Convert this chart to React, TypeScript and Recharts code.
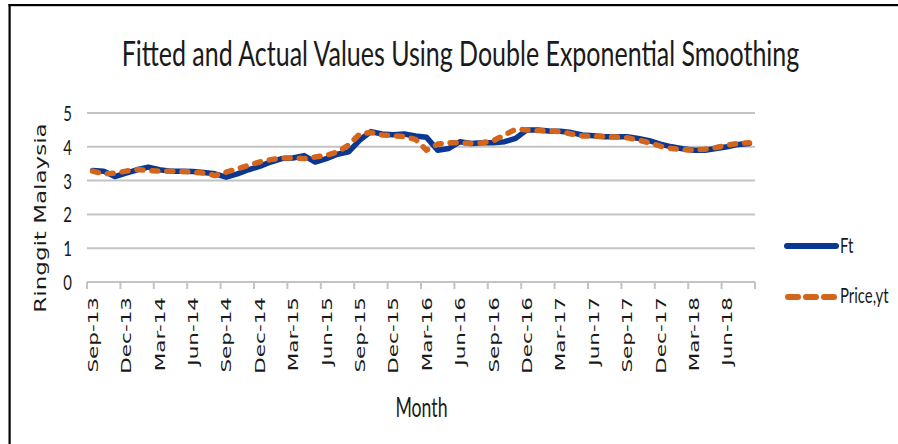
import React from 'react';
import { LineChart, Line, XAxis, YAxis, CartesianGrid } from 'recharts';

// ---------- data ----------
const months = [
  'Sep-13', 'Oct-13', 'Nov-13', 'Dec-13',
  'Jan-14', 'Feb-14', 'Mar-14', 'Apr-14', 'May-14', 'Jun-14', 'Jul-14', 'Aug-14', 'Sep-14', 'Oct-14', 'Nov-14', 'Dec-14',
  'Jan-15', 'Feb-15', 'Mar-15', 'Apr-15', 'May-15', 'Jun-15', 'Jul-15', 'Aug-15', 'Sep-15', 'Oct-15', 'Nov-15', 'Dec-15',
  'Jan-16', 'Feb-16', 'Mar-16', 'Apr-16', 'May-16', 'Jun-16', 'Jul-16', 'Aug-16', 'Sep-16', 'Oct-16', 'Nov-16', 'Dec-16',
  'Jan-17', 'Feb-17', 'Mar-17', 'Apr-17', 'May-17', 'Jun-17', 'Jul-17', 'Aug-17', 'Sep-17', 'Oct-17', 'Nov-17', 'Dec-17',
  'Jan-18', 'Feb-18', 'Mar-18', 'Apr-18', 'May-18', 'Jun-18', 'Jul-18', 'Aug-18',
];

const ftValues = [
  3.3, 3.28, 3.12, 3.22, 3.32, 3.4, 3.32, 3.28, 3.28, 3.27,
  3.24, 3.2, 3.1, 3.2, 3.32, 3.42, 3.55, 3.65, 3.67, 3.74,
  3.55, 3.65, 3.78, 3.85, 4.2, 4.45, 4.38, 4.36, 4.38, 4.32,
  4.28, 3.9, 3.95, 4.15, 4.1, 4.12, 4.12, 4.15, 4.25, 4.5,
  4.5, 4.47, 4.46, 4.42, 4.35, 4.33, 4.3, 4.3, 4.3, 4.25,
  4.18, 4.08, 4.0, 3.94, 3.9, 3.9, 3.95, 4.0, 4.07, 4.1,
];

const priceValues = [
  3.28, 3.2, 3.22, 3.28, 3.33, 3.3, 3.28, 3.28, 3.27, 3.25,
  3.22, 3.15, 3.25, 3.35, 3.45, 3.55, 3.62, 3.67, 3.67, 3.65,
  3.7, 3.75, 3.85, 4.05, 4.38, 4.42, 4.35, 4.33, 4.3, 4.22,
  3.9, 4.08, 4.12, 4.12, 4.1, 4.12, 4.18, 4.35, 4.52, 4.5,
  4.48, 4.47, 4.45, 4.38, 4.32, 4.32, 4.3, 4.29, 4.27, 4.2,
  4.12, 4.02, 3.95, 3.92, 3.9, 3.93, 3.98, 4.05, 4.1, 4.12,
];

const yTicks = [0, 1, 2, 3, 4, 5];

const seriesNames = { ft: 'Ft', price: 'Price,yt' };

const data = months.map((m, i) => ({ month: m, ft: ftValues[i], price: priceValues[i] }));

// ---------- layout / style ----------
const W = 898;
const H = 444;
const M_TOP = 113;
const M_RIGHT = 143;
const Y_W = 87;
const X_H = 162;
const PLOT_W = W - M_RIGHT - Y_W;
const STEP = PLOT_W / months.length;
const SX = 0.68;
const SX_TITLE = 0.735;

const BLUE = '#0a3791';
const ORANGE = '#d4661c';
const GRID = '#c3c3c3';
const TEXT = '#1a1a1a';
const CAL = "Lato, 'Open Sans', sans-serif";
const VER = "'DejaVu Sans', Verdana, sans-serif";

const XTick = (props: any) => {
  const { x, y, payload } = props;
  const idx = months.indexOf(payload.value);
  const ticks = [x - STEP / 2];
  if (idx + 3 >= months.length) ticks.push(x + STEP * (months.length - idx) - STEP / 2);
  return (
    <g>
      {ticks.map((lx, k) => (
        <line key={k} x1={lx} x2={lx} y1={y} y2={y + 7} stroke={GRID} strokeWidth={2} />
      ))}
      <text
        transform={`translate(${x},${y + 15}) scale(${SX},1) rotate(-90)`}
        textAnchor="end"
        dy="0.36em"
        fontFamily={VER}
        fontSize={21.5}
        fill={TEXT}
      >
        {payload.value}
      </text>
    </g>
  );
};

const YTick = (props: any) => {
  const { y, payload } = props;
  return (
    <text
      transform={`translate(72,${y}) scale(${SX},1)`}
      textAnchor="end"
      dy="0.36em"
      fontFamily={CAL}
      fontSize={22}
      fill={TEXT}
    >
      {payload.value}
    </text>
  );
};

export default function App() {
  return (
    <div style={{ position: 'fixed', left: 0, top: 0, width: W, height: H, background: '#fff', overflow: 'hidden' }}>
      <LineChart
        width={W}
        height={H}
        data={data}
        margin={{ top: M_TOP, right: M_RIGHT, left: 0, bottom: 0 }}
      >
        <CartesianGrid vertical={false} stroke={GRID} strokeWidth={2} />
        <XAxis
          dataKey="month"
          height={X_H}
          interval={2}
          padding={{ left: STEP / 2, right: STEP / 2 }}
          tickSize={0}
          tickMargin={0}
          tickLine={false}
          axisLine={{ stroke: GRID, strokeWidth: 2 }}
          tick={(p: any) => <XTick {...p} />}
        />
        <YAxis
          width={Y_W}
          domain={[0, 5]}
          ticks={yTicks}
          axisLine={false}
          tickLine={false}
          tickSize={0}
          tick={(p: any) => <YTick {...p} />}
        />
        <Line
          type="linear"
          dataKey="ft"
          name={seriesNames.ft}
          stroke={BLUE}
          strokeWidth={5.5}
          strokeLinejoin="round"
          strokeLinecap="round"
          dot={false}
          activeDot={false}
          isAnimationActive={false}
        />
        <Line
          type="linear"
          dataKey="price"
          name={seriesNames.price}
          stroke={ORANGE}
          strokeWidth={5.5}
          strokeDasharray="6 9"
          strokeLinejoin="round"
          strokeLinecap="round"
          dot={false}
          activeDot={false}
          isAnimationActive={false}
        />
      </LineChart>
      <svg
        width={W}
        height={H}
        style={{ position: 'absolute', left: 0, top: 0, pointerEvents: 'none' }}
      >
        {/* frame */}
        <rect x={8.5} y={4} width={W} height={2.2} fill="#000" />
        <rect x={8.5} y={4} width={2.2} height={H} fill="#000" />
        {/* title */}
        <text
          transform={`translate(460.5,66) scale(${SX_TITLE},1)`}
          textAnchor="middle"
          fontFamily={CAL}
          fontSize={34}
          fill={TEXT}
        >
          Fitted and Actual Values Using Double Exponential Smoothing
        </text>
        {/* y axis title */}
        <text
          transform={`translate(40,218) scale(${SX},1) rotate(-90)`}
          textAnchor="middle"
          dy="0.36em"
          fontFamily={VER}
          fontSize={23}
          fill={TEXT}
        >
          Ringgit Malaysia
        </text>
        {/* x axis title */}
        <text
          transform={`translate(421.5,417) scale(${SX},1)`}
          textAnchor="middle"
          fontFamily={CAL}
          fontSize={26}
          fill={TEXT}
        >
          Month
        </text>
        {/* legend */}
        <line x1={787} x2={836} y1={246} y2={246} stroke={BLUE} strokeWidth={6} strokeLinecap="round" />
        <text
          transform={`translate(840,253) scale(${SX},1)`}
          fontFamily={CAL}
          fontSize={22}
          fill={TEXT}
        >
          {seriesNames.ft}
        </text>
        <line
          x1={788}
          x2={836}
          y1={297}
          y2={297}
          stroke={ORANGE}
          strokeWidth={6}
          strokeDasharray="10 8"
          strokeLinecap="round"
        />
        <text
          transform={`translate(840,303) scale(${SX},1)`}
          fontFamily={CAL}
          fontSize={22}
          fill={TEXT}
        >
          {seriesNames.price}
        </text>
      </svg>
    </div>
  );
}
